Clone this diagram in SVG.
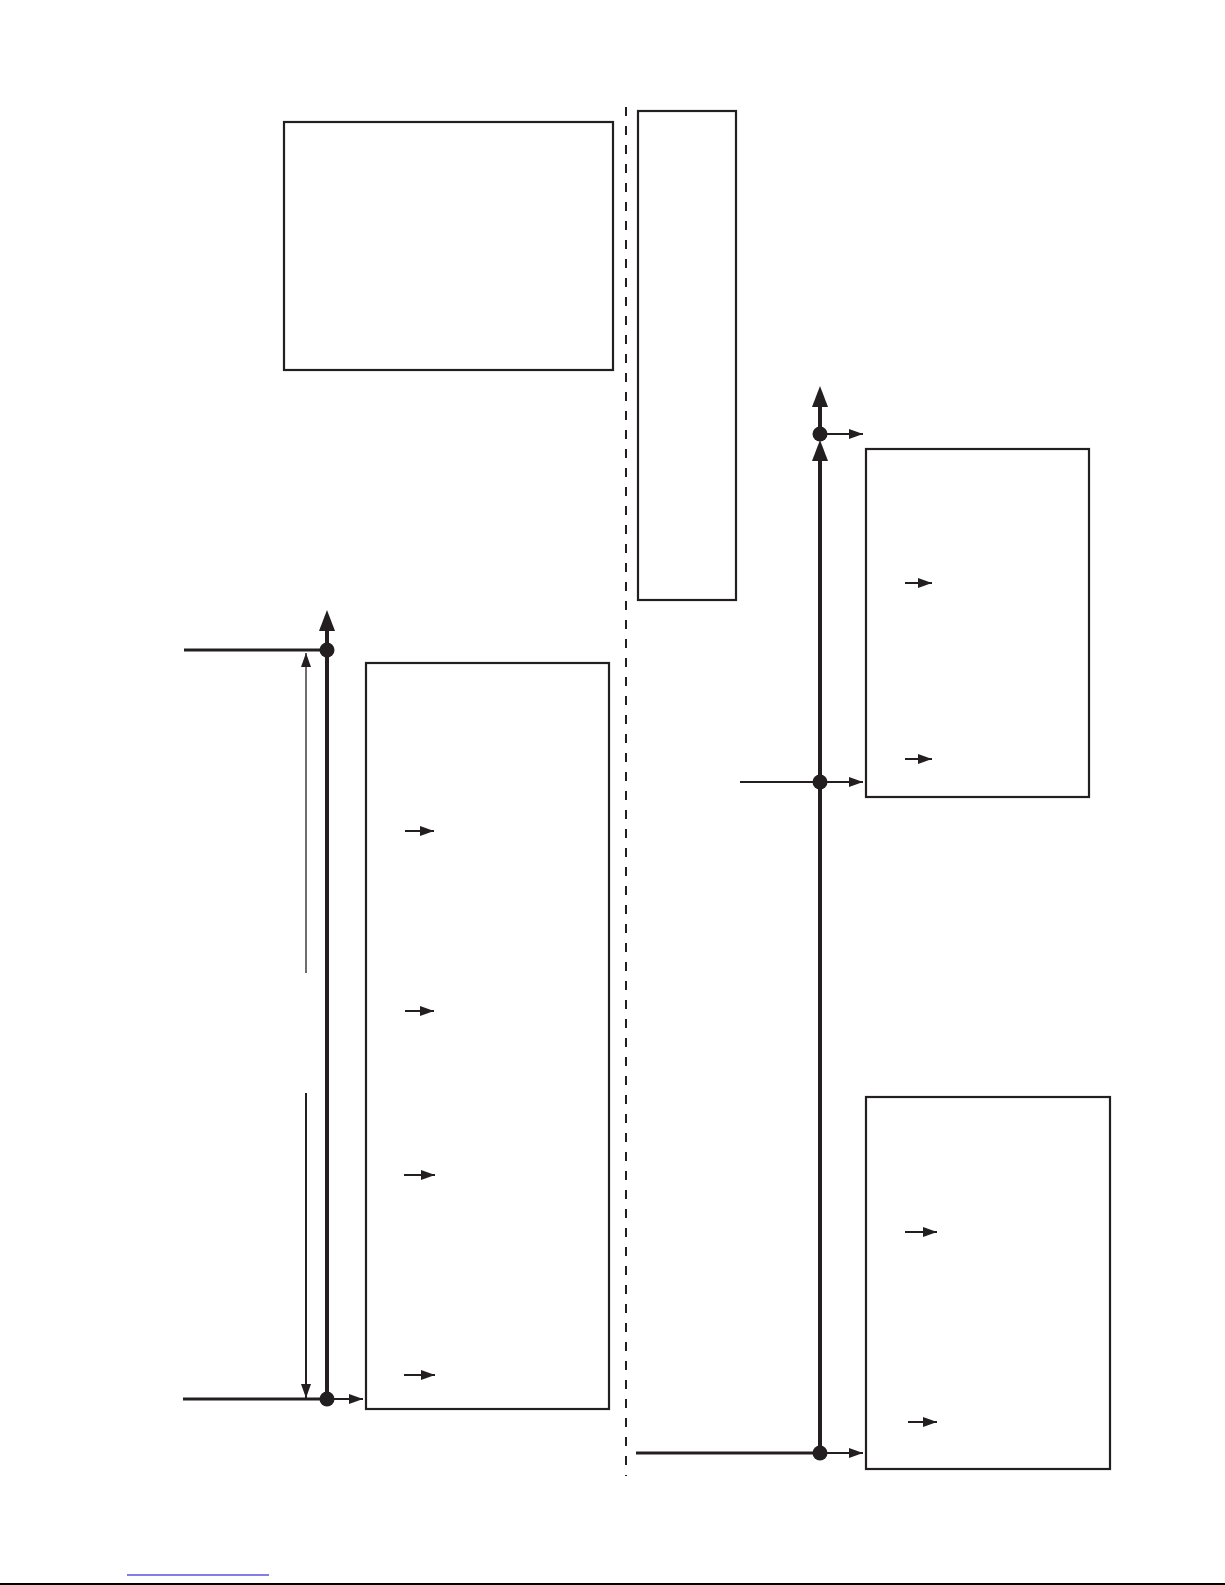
<svg xmlns="http://www.w3.org/2000/svg" width="1225" height="1585" viewBox="0 0 1225 1585">
  <defs>
    <style>
      .box { fill: #fff; stroke: #231f20; stroke-width: 2.2; }
      .bus { stroke: #231f20; stroke-width: 4; fill: none; }
      .feed { stroke: #231f20; stroke-width: 3.2; fill: none; }
      .thin { stroke: #231f20; stroke-width: 2; fill: none; }
      .dim { stroke: #231f20; stroke-width: 1.3; fill: none; }
      .dot { fill: #231f20; }
      .head { fill: #231f20; }
    </style>
    <marker id="bigHead" markerUnits="userSpaceOnUse" markerWidth="21" markerHeight="16" viewBox="0 0 21 16" refX="0" refY="8" orient="auto">
      <polygon class="head" points="0,0 21,8 0,16"/>
    </marker>
    <marker id="smallHead" markerUnits="userSpaceOnUse" markerWidth="14" markerHeight="10" viewBox="0 0 14 10" refX="14" refY="5" orient="auto">
      <polygon class="head" points="0,0 14,5 0,10"/>
    </marker>
    <marker id="dimHead" markerUnits="userSpaceOnUse" markerWidth="14" markerHeight="10" viewBox="0 0 14 10" refX="14" refY="5" orient="auto-start-reverse">
      <polygon class="head" points="0,0 14,5 0,10"/>
    </marker>
  </defs>

  <rect x="0" y="0" width="1225" height="1585" fill="#fff"/>

  <!-- divider -->
  <line x1="626" y1="107" x2="626" y2="1476" stroke="#231f20" stroke-width="2" stroke-dasharray="9,10"/>

  <!-- nodes -->
  <g id="node-top-left"><rect class="box" x="284" y="122" width="329" height="248"/></g>
  <g id="node-top-narrow"><rect class="box" x="638" y="111" width="98" height="489"/></g>
  <g id="node-left-main">
    <rect class="box" x="366" y="663" width="243" height="746"/>
    <line class="thin" x1="405" y1="831" x2="434" y2="831" marker-end="url(#smallHead)"/>
    <line class="thin" x1="405" y1="1011" x2="434" y2="1011" marker-end="url(#smallHead)"/>
    <line class="thin" x1="404" y1="1175" x2="435" y2="1175" marker-end="url(#smallHead)"/>
    <line class="thin" x1="404" y1="1375" x2="435" y2="1375" marker-end="url(#smallHead)"/>
  </g>
  <g id="node-right-upper">
    <rect class="box" x="866" y="449" width="223" height="348"/>
    <line class="thin" x1="905" y1="583" x2="932" y2="583" marker-end="url(#smallHead)"/>
    <line class="thin" x1="905" y1="759" x2="932" y2="759" marker-end="url(#smallHead)"/>
  </g>
  <g id="node-right-lower">
    <rect class="box" x="866" y="1097" width="244" height="372"/>
    <line class="thin" x1="905" y1="1232" x2="937" y2="1232" marker-end="url(#smallHead)"/>
    <line class="thin" x1="908" y1="1422" x2="937" y2="1422" marker-end="url(#smallHead)"/>
  </g>

  <!-- connectors -->
  <g id="connectors">
    <!-- left bus -->
    <line class="feed" x1="184" y1="650" x2="327" y2="650"/>
    <line class="feed" x1="183" y1="1399" x2="327" y2="1399"/>
    <line class="bus" x1="327" y1="1399" x2="327" y2="631" marker-end="url(#bigHead)"/>
    <circle class="dot" cx="327" cy="650" r="7.5"/>
    <circle class="dot" cx="327" cy="1399" r="7.5"/>
    <line class="thin" x1="327" y1="1399" x2="363" y2="1399" marker-end="url(#smallHead)"/>
    <!-- dimension arrow -->
    <line class="dim" x1="306" y1="653" x2="306" y2="973" marker-start="url(#dimHead)"/>
    <line class="thin" x1="306" y1="1093" x2="306" y2="1398" marker-end="url(#dimHead)"/>

    <!-- right bus -->
    <line class="bus" x1="820" y1="1453" x2="820" y2="461" marker-end="url(#bigHead)"/>
    <line class="bus" x1="820" y1="434" x2="820" y2="407" marker-end="url(#bigHead)"/>
    <circle class="dot" cx="820" cy="434" r="7.5"/>
    <line class="thin" x1="820" y1="434" x2="863" y2="434" marker-end="url(#smallHead)"/>
    <line class="thin" x1="740" y1="782" x2="820" y2="782"/>
    <circle class="dot" cx="820" cy="782" r="7.5"/>
    <line class="thin" x1="820" y1="782" x2="863" y2="782" marker-end="url(#smallHead)"/>
    <line class="feed" x1="636" y1="1453" x2="820" y2="1453"/>
    <circle class="dot" cx="820" cy="1453" r="7.5"/>
    <line class="thin" x1="820" y1="1453" x2="863" y2="1453" marker-end="url(#smallHead)"/>
  </g>

  <!-- page footer lines -->
  <line x1="127" y1="1575" x2="269" y2="1575" stroke="#0000cc" stroke-width="1.2"/>
  <line x1="0" y1="1584" x2="1225" y2="1584" stroke="#000" stroke-width="2"/>
</svg>
